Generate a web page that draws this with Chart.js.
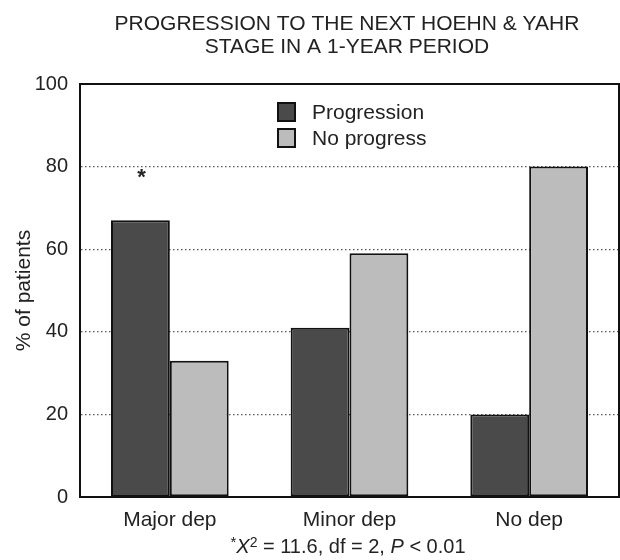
<!DOCTYPE html>
<html>
<head>
<meta charset="utf-8">
<script src="https://cdn.jsdelivr.net/npm/chart.js@4.4.1/dist/chart.umd.min.js"></script>
<style>
  html, body { margin: 0; padding: 0; background: #fff; }
  #wrap { width: 620px; height: 560px; }
</style>
</head>
<body>
<div id="wrap"><canvas id="c" width="620" height="560"></canvas></div>
<script>
const categories = ["Major dep", "Minor dep", "No dep"];
const progression = [67, 41, 20];
const noProgress = [33, 59, 80];
const seriesLabels = ["Progression", "No progress"];
const yTicks = [0, 20, 40, 60, 80, 100];
const titleLines = ["PROGRESSION TO THE NEXT HOEHN & YAHR", "STAGE IN A 1-YEAR PERIOD"];
const yTitle = "% of patients";
const asteriskValue = 78;

const FONT = "'Liberation Sans', Arial, Helvetica, sans-serif";
const TXT = "#222";

const decor = {
  id: 'decor',
  afterDatasetsDraw(chart) {
    const ctx = chart.ctx;
    const a = chart.chartArea;
    const y = chart.scales.y;
    ctx.save();
    // frame
    ctx.strokeStyle = '#111';
    ctx.lineWidth = 2;
    ctx.strokeRect(a.left, a.top, a.right - a.left, a.bottom - a.top);
    // legend
    ctx.font = "21px " + FONT;
    ctx.textBaseline = 'middle';
    ctx.textAlign = 'left';
    chart.data.datasets.forEach((ds, i) => {
      const by = 103 + i * 26;
      ctx.fillStyle = ds.backgroundColor;
      ctx.fillRect(278, by, 17, 18);
      ctx.strokeStyle = '#111';
      ctx.lineWidth = 2;
      ctx.strokeRect(278, by, 17, 18);
      ctx.fillStyle = TXT;
      ctx.fillText(ds.label, 312, by + 10);
    });
    // asterisk above first progression bar
    const bar = chart.getDatasetMeta(0).data[0];
    ctx.font = "bold 22px " + FONT;
    ctx.textAlign = 'center';
    ctx.textBaseline = 'alphabetic';
    ctx.fillStyle = TXT;
    ctx.fillText('*', bar.x + 1, y.getPixelForValue(asteriskValue) + 9);
    ctx.restore();
  },
  afterDraw(chart) {
    const ctx = chart.ctx;
    ctx.save();
    ctx.fillStyle = TXT;
    ctx.textBaseline = 'middle';
    ctx.textAlign = 'center';
    ctx.font = "21px " + FONT;
    ctx.fillText(titleLines[0], 347, 24);
    ctx.fillText(titleLines[1], 347, 47);
    // footnote
    const parts = [
      {t: '*', f: "15px " + FONT, dy: -6},
      {t: 'X', f: "italic 20px " + FONT, dy: 0},
      {t: '2', f: "14px " + FONT, dy: -6},
      {t: ' = 11.6, df = 2, ', f: "20px " + FONT, dy: 0},
      {t: 'P', f: "italic 20px " + FONT, dy: 0},
      {t: ' < 0.01', f: "20px " + FONT, dy: 0}
    ];
    let w = 0;
    parts.forEach(p => { ctx.font = p.f; p.w = ctx.measureText(p.t).width; w += p.w; });
    let cx = 348 - w / 2;
    ctx.textAlign = 'left';
    ctx.textBaseline = 'alphabetic';
    parts.forEach(p => { ctx.font = p.f; ctx.fillText(p.t, cx, 553 + p.dy); cx += p.w; });
    ctx.restore();
  }
};

new Chart(document.getElementById('c'), {
  type: 'bar',
  data: {
    labels: categories,
    datasets: [
      { label: seriesLabels[0], data: progression, backgroundColor: '#4a4a4a', borderColor: '#111', borderWidth: 2, borderSkipped: false },
      { label: seriesLabels[1], data: noProgress, backgroundColor: '#bcbcbc', borderColor: '#111', borderWidth: 2, borderSkipped: false }
    ]
  },
  options: {
    responsive: false,
    animation: false,
    devicePixelRatio: 1,
    layout: { padding: { top: 84, right: 1, left: 0, bottom: 0 } },
    plugins: { legend: { display: false }, title: { display: false }, tooltip: { enabled: false } },
    datasets: { bar: { categoryPercentage: 0.655, barPercentage: 1 } },
    scales: {
      x: {
        grid: { display: false, drawTicks: false },
        border: { display: true, color: '#111', width: 2 },
        ticks: { color: TXT, font: { family: FONT, size: 21 }, padding: 11 },
        afterFit(s) { s.height = 63; }
      },
      y: {
        min: 0, max: 100,
        afterBuildTicks(s) { s.ticks = yTicks.map(v => ({ value: v })); },
        grid: {
          drawTicks: false,
          color: ctx => (ctx.tick && (ctx.tick.value === 0 || ctx.tick.value === 100)) ? 'rgba(0,0,0,0)' : '#5a5a5a',
          lineWidth: 1.3
        },
        border: { display: true, color: '#111', width: 2, dash: [1.5, 2.5] },
        ticks: { color: TXT, font: { family: FONT, size: 20 }, padding: 12 },
        title: { display: true, text: yTitle, color: TXT, font: { family: FONT, size: 21 }, padding: { top: 12, bottom: 0 } },
        afterFit(s) { s.width = 80; }
      }
    }
  },
  plugins: [decor]
});
</script>
</body>
</html>
